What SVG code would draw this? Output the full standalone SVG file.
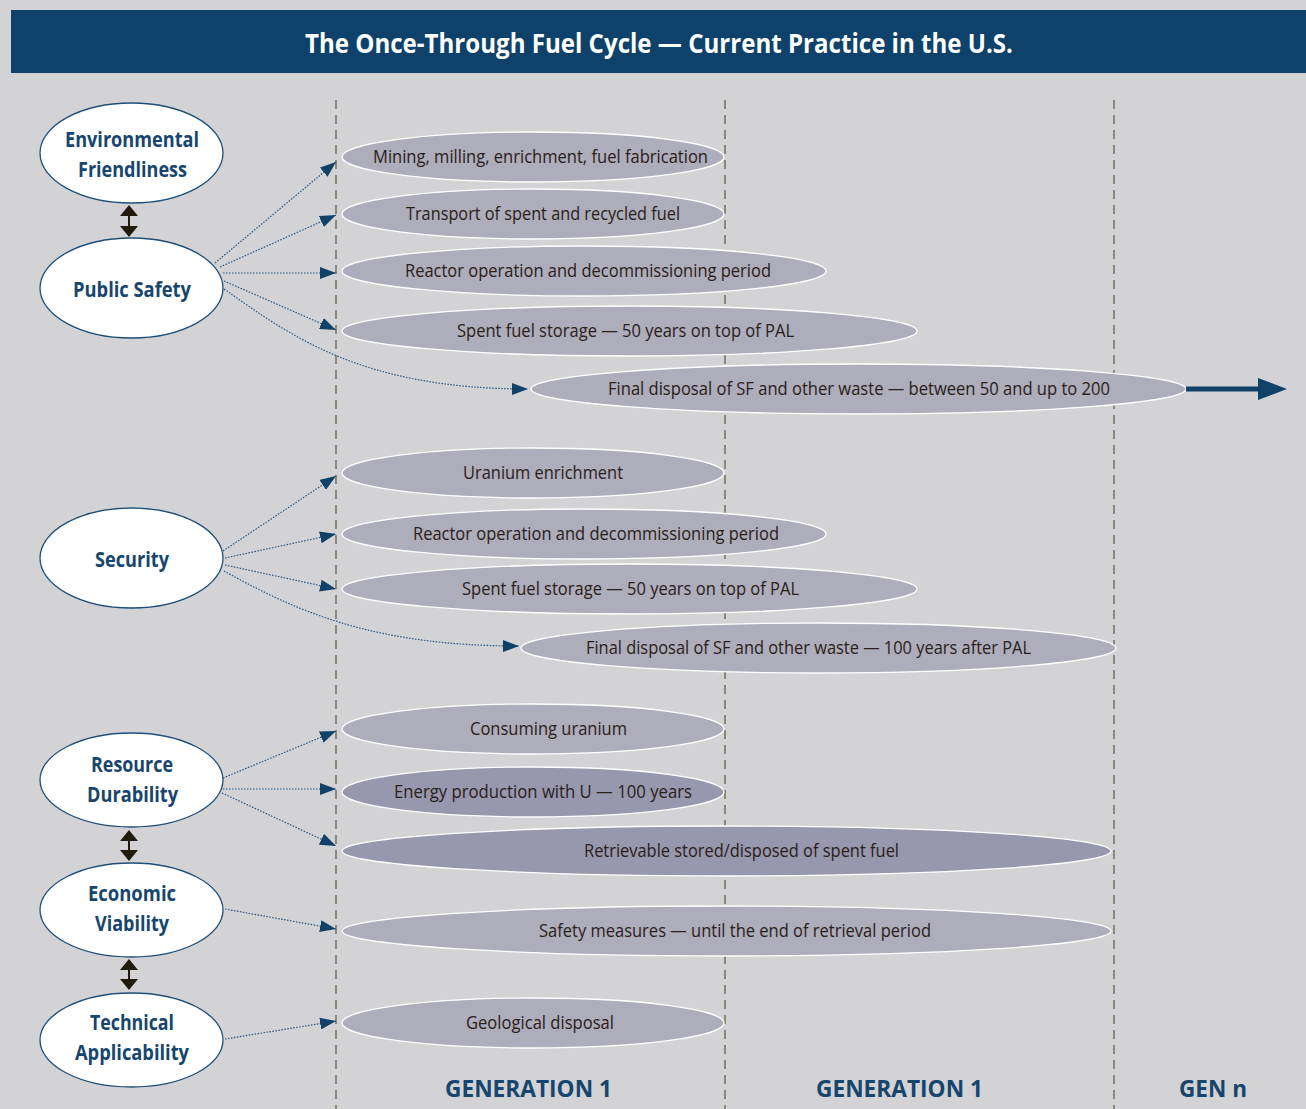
<svg xmlns="http://www.w3.org/2000/svg" width="1306" height="1109" viewBox="0 0 1306 1109">
<defs>
<marker id="ah" viewBox="0 0 16 12" refX="16" refY="6" markerWidth="16" markerHeight="12" markerUnits="userSpaceOnUse" orient="auto"><path d="M0,0 L16,6 L0,12 z" fill="#0f4169"/></marker>
<style>
.node ellipse{fill:#ffffff;stroke:#1c4f7a;stroke-width:1.3}
.node text{font-family:"Open Sans","Noto Sans","Liberation Sans",sans-serif;font-weight:700;font-size:20.5px;fill:#16456e;text-anchor:middle}
.bar ellipse{fill:#adadbb;stroke:#ffffff;stroke-width:1.3}
.bar.dark ellipse{fill:#9797ae}
.bar text{font-family:"Open Sans","Noto Sans","Liberation Sans",sans-serif;font-size:18px;fill:#2b2018;text-anchor:middle}
.grid line{stroke:#8a8876;stroke-width:2;stroke-dasharray:9 6}
.conn path{fill:none;stroke:#2d5a85;stroke-width:1.2;stroke-dasharray:1.6 1.4;marker-end:url(#ah)}
.dbl line{stroke:#231a0e;stroke-width:2}
.dbl path{fill:#231a0e}
.gen{font-family:"Open Sans","Noto Sans","Liberation Sans",sans-serif;font-weight:700;font-size:24px;fill:#16456e;text-anchor:middle}
</style>
</defs>
<rect width="1306" height="1109" fill="#d3d3d5"/>
<g id="title">
<rect x="11" y="10" width="1295" height="63" fill="#0e426a"/>
<text x="659" y="53" font-family="'Open Sans','Noto Sans','Liberation Sans',sans-serif" font-weight="700" font-size="26" fill="#ffffff" text-anchor="middle" textLength="708" lengthAdjust="spacingAndGlyphs">The Once-Through Fuel Cycle — Current Practice in the U.S.</text>
</g>
<g id="grid" class="grid">
<line x1="336" y1="100" x2="336" y2="1109"/>
<line x1="725" y1="100" x2="725" y2="1109"/>
<line x1="1114" y1="100" x2="1114" y2="1109"/>
</g>
<g id="bars">
<g id="b1" class="bar"><ellipse cx="533" cy="157" rx="191" ry="25"/><text x="540.5" y="163" textLength="335" lengthAdjust="spacingAndGlyphs">Mining, milling, enrichment, fuel fabrication</text></g>
<g id="b2" class="bar"><ellipse cx="533" cy="214" rx="191" ry="25"/><text x="543" y="220" textLength="274" lengthAdjust="spacingAndGlyphs">Transport of spent and recycled fuel</text></g>
<g id="b3" class="bar"><ellipse cx="584" cy="271" rx="242" ry="25"/><text x="588" y="277" textLength="366" lengthAdjust="spacingAndGlyphs">Reactor operation and decommissioning period</text></g>
<g id="b4" class="bar"><ellipse cx="629.5" cy="331" rx="287.5" ry="25"/><text x="625.5" y="337" textLength="337" lengthAdjust="spacingAndGlyphs">Spent fuel storage — 50 years on top of PAL</text></g>
<g id="b5" class="bar"><ellipse cx="858.5" cy="389" rx="327.5" ry="25"/><text x="859" y="395" textLength="502" lengthAdjust="spacingAndGlyphs">Final disposal of SF and other waste — between 50 and up to 200</text></g>
<g id="b6" class="bar"><ellipse cx="533" cy="473" rx="191" ry="25"/><text x="543" y="479" textLength="160" lengthAdjust="spacingAndGlyphs">Uranium enrichment</text></g>
<g id="b7" class="bar"><ellipse cx="584" cy="534" rx="242" ry="25"/><text x="596" y="540" textLength="366" lengthAdjust="spacingAndGlyphs">Reactor operation and decommissioning period</text></g>
<g id="b8" class="bar"><ellipse cx="629.5" cy="589" rx="287.5" ry="25"/><text x="630.5" y="595" textLength="337" lengthAdjust="spacingAndGlyphs">Spent fuel storage — 50 years on top of PAL</text></g>
<g id="b9" class="bar"><ellipse cx="818.5" cy="648" rx="297.5" ry="25"/><text x="808.5" y="654" textLength="445" lengthAdjust="spacingAndGlyphs">Final disposal of SF and other waste — 100 years after PAL</text></g>
<g id="b10" class="bar"><ellipse cx="533" cy="729" rx="191" ry="25"/><text x="548.5" y="735" textLength="157" lengthAdjust="spacingAndGlyphs">Consuming uranium</text></g>
<g id="b11" class="bar dark"><ellipse cx="533" cy="792" rx="191" ry="25"/><text x="543" y="798" textLength="298" lengthAdjust="spacingAndGlyphs">Energy production with U — 100 years</text></g>
<g id="b12" class="bar dark"><ellipse cx="726.5" cy="851" rx="384.5" ry="25"/><text x="741.5" y="857" textLength="315" lengthAdjust="spacingAndGlyphs">Retrievable stored/disposed of spent fuel</text></g>
<g id="b13" class="bar"><ellipse cx="726.5" cy="931" rx="384.5" ry="25"/><text x="735" y="937" textLength="392" lengthAdjust="spacingAndGlyphs">Safety measures — until the end of retrieval period</text></g>
<g id="b14" class="bar"><ellipse cx="533" cy="1023" rx="191" ry="25"/><text x="540" y="1029" textLength="148" lengthAdjust="spacingAndGlyphs">Geological disposal</text></g>
</g>
<g id="nodes">
<g id="n-env" class="node"><ellipse cx="131.5" cy="153" rx="91.5" ry="50"/><text x="132" y="147" textLength="134" lengthAdjust="spacingAndGlyphs">Environmental</text><text x="132.5" y="177" textLength="109" lengthAdjust="spacingAndGlyphs">Friendliness</text></g>
<g id="n-pub" class="node"><ellipse cx="131.5" cy="288" rx="91.5" ry="50"/><text x="132" y="297" textLength="118" lengthAdjust="spacingAndGlyphs">Public Safety</text></g>
<g id="n-sec" class="node"><ellipse cx="131.5" cy="558" rx="91.5" ry="50"/><text x="132" y="567" textLength="74" lengthAdjust="spacingAndGlyphs">Security</text></g>
<g id="n-res" class="node"><ellipse cx="131.5" cy="780" rx="91.5" ry="47"/><text x="132" y="772" textLength="82" lengthAdjust="spacingAndGlyphs">Resource</text><text x="132.5" y="802" textLength="91" lengthAdjust="spacingAndGlyphs">Durability</text></g>
<g id="n-eco" class="node"><ellipse cx="131.5" cy="910" rx="91.5" ry="47"/><text x="132" y="901" textLength="88" lengthAdjust="spacingAndGlyphs">Economic</text><text x="132" y="931" textLength="74" lengthAdjust="spacingAndGlyphs">Viability</text></g>
<g id="n-tec" class="node"><ellipse cx="131.5" cy="1040" rx="91.5" ry="47"/><text x="132" y="1030" textLength="84" lengthAdjust="spacingAndGlyphs">Technical</text><text x="132" y="1060" textLength="114" lengthAdjust="spacingAndGlyphs">Applicability</text></g>
</g>
<g id="connectors">
<g class="dbl">
<line x1="129" y1="210" x2="129" y2="232"/><path d="M129,205 L138,216 L120,216 z"/><path d="M129,237 L138,226 L120,226 z"/>
<line x1="129" y1="835" x2="129" y2="856"/><path d="M129,830 L138,841 L120,841 z"/><path d="M129,861 L138,850 L120,850 z"/>
<line x1="129" y1="964" x2="129" y2="985"/><path d="M129,959 L138,970 L120,970 z"/><path d="M129,990 L138,979 L120,979 z"/>
</g>
<g class="conn">
<path d="M215,263 L336,162"/>
<path d="M220,267 L336,215"/>
<path d="M223,273 L336,273"/>
<path d="M224,281 L336,330"/>
<path d="M224,289 C290,335 360,389 528,389"/>
<path d="M223,551 L336,476"/>
<path d="M225,558 L336,534"/>
<path d="M225,565 L336,589"/>
<path d="M224,571 C295,610 370,646 519,646"/>
<path d="M223,778 L336,731"/>
<path d="M223,789 L336,789"/>
<path d="M222,793 L336,846"/>
<path d="M225,909 L336,929"/>
<path d="M225,1039 L336,1021"/>
</g>
<g id="bigarrow"><line x1="1186" y1="389" x2="1262" y2="389" stroke="#0f4169" stroke-width="5"/><path d="M1258,378 L1287,389 L1258,400 z" fill="#0f4169"/></g>
</g>
<g id="labels">
<text class="gen" x="528.5" y="1097" textLength="167" lengthAdjust="spacingAndGlyphs">GENERATION 1</text>
<text class="gen" x="899.5" y="1097" textLength="167" lengthAdjust="spacingAndGlyphs">GENERATION 1</text>
<text class="gen" x="1213" y="1097" textLength="68" lengthAdjust="spacingAndGlyphs">GEN n</text>
</g>
</svg>
